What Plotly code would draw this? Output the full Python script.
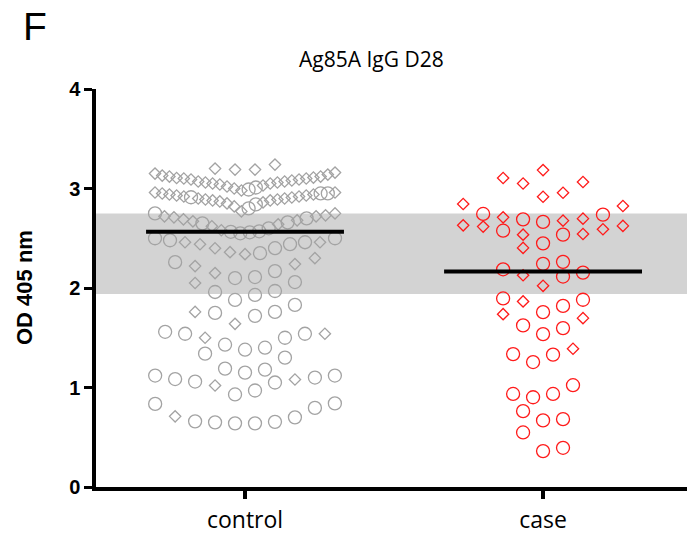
import plotly.graph_objects as go

# ---------------- data ----------------
groups = ["control", "case"]

control_circles = [0.64, 0.64, 0.65, 0.655, 0.66, 0.70, 0.795, 0.835, 0.84,
                   0.93, 0.97, 1.05, 1.06, 1.085, 1.10, 1.12, 1.12,
                   1.15, 1.18, 1.19, 1.30, 1.34,
                   1.38, 1.40, 1.43, 1.50, 1.54, 1.54, 1.56,
                   1.72, 1.75, 1.76, 1.83,
                   1.88, 1.93, 1.96, 1.97, 2.06,
                   2.10, 2.11, 2.17, 2.26,
                   2.35, 2.40, 2.44, 2.46, 2.48, 2.50, 2.50,
                   2.55, 2.56, 2.565, 2.57, 2.60, 2.65, 2.66, 2.70, 2.75,
                   2.80, 2.84, 2.912, 2.95, 2.951,
                   2.99, 3.01]
control_diamonds = [0.71,
                    1.02, 1.08,
                    1.50, 1.54,
                    1.64, 1.76,
                    2.05,
                    2.15, 2.22, 2.24, 2.30,
                    2.34, 2.36, 2.40, 2.44, 2.46, 2.46,
                    2.58, 2.62, 2.64, 2.67, 2.68, 2.69, 2.71, 2.72, 2.72, 2.73, 2.75,
                    2.77, 2.82, 2.85, 2.86, 2.87, 2.88, 2.88, 2.89, 2.89, 2.90, 2.90,
                    2.91, 2.92, 2.92, 2.93, 2.93, 2.94, 2.94, 2.95, 2.96, 2.96,
                    2.98, 3.00, 3.02, 3.03, 3.04, 3.05, 3.05, 3.06, 3.06, 3.07, 3.07,
                    3.08, 3.09, 3.09, 3.10, 3.10, 3.105, 3.11, 3.12, 3.12, 3.13, 3.14,
                    3.15, 3.16,
                    3.19, 3.19, 3.20, 3.24]

case_circles = [0.361, 0.394, 0.548, 0.669, 0.682, 0.762, 0.902, 0.935, 0.935,
                1.023, 1.256, 1.33, 1.336, 1.537, 1.597, 1.624, 1.757, 1.82,
                1.882, 1.895, 2.115, 2.155, 2.188, 2.243, 2.263, 2.449, 2.536,
                2.576, 2.664, 2.69, 2.737, 2.744]
case_diamonds = [1.39, 1.697, 1.737, 1.865, 2.022, 2.128, 2.403, 2.536, 2.543,
                 2.59, 2.617, 2.624, 2.63, 2.677, 2.697, 2.71, 2.824, 2.844,
                 2.917, 2.957, 3.05, 3.065, 3.105, 3.185]

medians = [2.565, 2.165]
reference_band = [1.94, 2.75]
y_ticks = [0, 1, 2, 3, 4]

# ---------------- scatter-dot layout (Prism-like rows) ----------------
ROW_H = 0.2        # value range gathered into one row
STEP = 0.067       # horizontal spacing between points (category units)
MAX_SPAN = 0.604   # maximum row width (category units)


def dot_offsets(circles, diamonds):
    pts = [(v, 0) for v in circles] + [(v, 1) for v in diamonds]
    pts.sort()
    out = []
    i = 0
    n = len(pts)
    while i < n:
        start = pts[i][0]
        row = []
        while i < n and pts[i][0] <= start + ROW_H + 1e-6:
            row.append(pts[i])
            i += 1
        m = len(row)
        s = STEP if m <= 1 else min(STEP, MAX_SPAN / (m - 1))
        for k, p in enumerate(row):
            if m % 2 == 1:
                if k == 0:
                    slot = 0
                else:
                    j = (k + 1) // 2
                    slot = j if k % 2 == 1 else -j
            else:
                j = k // 2 + 0.5
                slot = -j if k % 2 == 0 else j
            out.append((slot * s, p[0], p[1]))
    return out


colors = ["#a3a3a3", "#ff1a1a"]
data_sets = [(control_circles, control_diamonds), (case_circles, case_diamonds)]

fig = go.Figure()

for gi, (circ, diam) in enumerate(data_sets):
    pts = dot_offsets(circ, diam)
    for kind, sym, size in [(0, "circle-open", 13), (1, "diamond-open", 8.7)]:
        xs = [gi + dx for dx, v, kd in pts if kd == kind]
        ys = [v for dx, v, kd in pts if kd == kind]
        fig.add_trace(go.Scatter(
            x=xs, y=ys, mode="markers",
            marker=dict(symbol=sym, size=size, color=colors[gi],
                        line=dict(width=1.3, color=colors[gi])),
            showlegend=False, hoverinfo="y"))

for gi, m in enumerate(medians):
    fig.add_trace(go.Scatter(x=[gi - 0.332, gi + 0.332], y=[m, m], mode="lines",
                             line=dict(color="black", width=4),
                             showlegend=False, hoverinfo="skip"))

fig.add_shape(type="rect", xref="paper", yref="y", x0=0, x1=1,
              y0=reference_band[0], y1=reference_band[1],
              fillcolor="#d3d3d3", line=dict(width=0), layer="below")

fig.update_layout(
    width=687, height=536,
    margin=dict(l=96, r=0, t=89, b=49),
    paper_bgcolor="white", plot_bgcolor="white",
    showlegend=False,
    xaxis=dict(range=[-0.5, 1.483], tickvals=[0, 1], ticktext=groups,
               showgrid=False, zeroline=False,
               showline=True, linecolor="black", linewidth=3.5,
               ticks="outside", ticklen=8, tickwidth=3.5, tickcolor="black",
               tickfont=dict(family="Open Sans", size=23, color="black"),
               ticklabelstandoff=2),
    yaxis=dict(range=[0, 4], tickvals=y_ticks,
               showgrid=False, zeroline=False,
               showline=True, linecolor="black", linewidth=3.5,
               ticks="outside", ticklen=8, tickwidth=3, tickcolor="black",
               tickfont=dict(family="Liberation Sans", size=20, color="black",
                             weight="bold")),
    annotations=[
        dict(text="Ag85A IgG D28", xref="paper", yref="paper", x=0.467, y=1.0745,
             xanchor="center", yanchor="middle", showarrow=False,
             font=dict(family="Open Sans", size=21, color="black")),
        dict(text="OD 405 nm", xref="paper", yref="paper", x=0, xshift=-72, y=0.5,
             xanchor="center", yanchor="middle", textangle=-90, showarrow=False,
             font=dict(family="Liberation Sans", size=22, color="black", weight="bold")),
        dict(text="F", xref="paper", yref="paper", x=-0.104, y=1.156,
             xanchor="center", yanchor="middle", showarrow=False,
             font=dict(family="Liberation Sans", size=39, color="black")),
    ],
)

fig.write_html("out.html",
               config={"displayModeBar": False},
               post_script="document.body.style.margin='0';document.body.style.overflow='hidden';")
